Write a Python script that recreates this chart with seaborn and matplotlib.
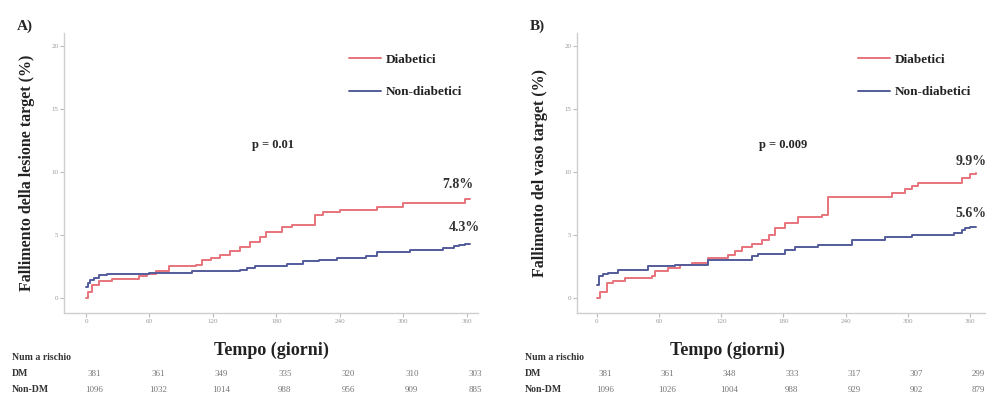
import matplotlib
matplotlib.use("Agg")
import matplotlib.pyplot as plt
import numpy as np
import pandas as pd
import seaborn as sns

# (day, cumulative %)
a_dm_days = [0, 2, 6, 12, 25, 50, 58, 66, 78, 104, 110, 118, 127, 136, 146, 155, 164, 170, 185, 195, 216, 224, 240, 275, 300, 358, 363]
a_dm_vals = [0, 0.5, 1.0, 1.3, 1.5, 1.7, 1.9, 2.1, 2.5, 2.6, 3.0, 3.2, 3.4, 3.7, 4.0, 4.4, 4.8, 5.2, 5.6, 5.8, 6.6, 6.8, 7.0, 7.2, 7.5, 7.8, 7.8]
a_ndm_days = [0, 2, 4, 8, 12, 20, 60, 100, 146, 152, 160, 190, 205, 220, 237, 265, 275, 306, 337, 348, 353, 358, 363]
a_ndm_vals = [0.9, 1.2, 1.4, 1.6, 1.8, 1.9, 2.0, 2.1, 2.2, 2.4, 2.5, 2.7, 2.9, 3.0, 3.2, 3.3, 3.6, 3.8, 3.95, 4.1, 4.2, 4.3, 4.3]

b_dm_days = [0, 3, 10, 15, 27, 53, 56, 69, 80, 92, 107, 126, 133, 140, 150, 159, 166, 172, 181, 194, 217, 223, 285, 297, 304, 310, 352, 360, 366]
b_dm_vals = [0, 0.5, 1.2, 1.3, 1.6, 1.7, 2.1, 2.4, 2.6, 2.8, 3.2, 3.4, 3.7, 4.0, 4.3, 4.6, 5.0, 5.5, 5.9, 6.4, 6.6, 8.0, 8.3, 8.6, 8.9, 9.1, 9.5, 9.8, 9.9]
b_ndm_days = [0, 2, 6, 11, 20, 49, 75, 107, 150, 155, 181, 191, 213, 246, 278, 304, 345, 352, 355, 360, 366]
b_ndm_vals = [1.0, 1.7, 1.9, 2.0, 2.2, 2.5, 2.6, 3.0, 3.3, 3.5, 3.8, 4.0, 4.2, 4.6, 4.8, 5.0, 5.15, 5.4, 5.5, 5.6, 5.6]

time_ticks = [0, 60, 120, 180, 240, 300, 360]
a_risk_dm = [381, 361, 349, 335, 320, 310, 303]
a_risk_ndm = [1096, 1032, 1014, 988, 956, 909, 885]
b_risk_dm = [381, 361, 348, 333, 317, 307, 299]
b_risk_ndm = [1096, 1026, 1004, 988, 929, 902, 879]

groups = ["Diabetici", "Non-diabetici"]
colors = {"Diabetici": "#e8737c", "Non-diabetici": "#535c9a"}

sns.set_style("white")
plt.rcParams["font.family"] = ["Liberation Serif", "DejaVu Serif"]

fig = plt.figure(figsize=(9.96, 3.96), dpi=100)


def panel(rect, xlim, dm, ndm, risk_dm, risk_ndm, letter, ylabel, xlab_x, pval, pct_dm, pct_ndm, pct_pos):
    ax = fig.add_axes(rect)
    df = pd.DataFrame({
        "day": dm[0] + ndm[0],
        "val": dm[1] + ndm[1],
        "grp": [groups[0]] * len(dm[0]) + [groups[1]] * len(ndm[0]),
    })
    sns.lineplot(data=df, x="day", y="val", hue="grp", hue_order=groups, palette=colors,
                 drawstyle="steps-post", estimator=None, linewidth=1.4, ax=ax)
    ax.set_xlim(*xlim)
    ax.set_ylim(-1.2, 21)
    ax.set_xticks(time_ticks)
    ax.set_yticks([0, 5, 10, 15, 20])
    for s in ["top", "right"]:
        ax.spines[s].set_visible(False)
    for s in ["left", "bottom"]:
        ax.spines[s].set_color("#cfcfcf")
        ax.spines[s].set_linewidth(1.0)
    ax.tick_params(axis="both", labelsize=5, labelcolor="#999999", color="#bbbbbb",
                   length=3, width=0.8, direction="out", bottom=True, left=True, pad=1)
    ax.set_xlabel("Tempo (giorni)", fontsize=13, fontweight="bold", color="#222222")
    ax.xaxis.set_label_coords(xlab_x, -0.103)
    ax.set_ylabel(ylabel, fontsize=11.5, fontweight="bold", color="#222222", labelpad=12)
    leg = ax.legend(loc="upper left", bbox_to_anchor=(0.66, 0.97), frameon=False,
                    handlelength=2.4, labelspacing=1.55, handletextpad=0.4, fontsize=9.5)
    for t in leg.get_texts():
        t.set_fontweight("bold")
        t.set_color("#222222")
    ax.text(pval[0], pval[1], pval[2], ha="center", va="center", fontsize=9, fontweight="bold")
    ax.text(pct_pos[0], pct_pos[1], pct_dm, ha="center", va="center", fontsize=10,
            fontweight="bold", color="#333333")
    ax.text(pct_pos[2], pct_pos[3], pct_ndm, ha="center", va="center", fontsize=10,
            fontweight="bold", color="#333333")
    # panel letter
    ax.text(-0.115, 1.0, letter, transform=ax.transAxes, fontsize=11, fontweight="bold", va="bottom")

    # number at risk table under the axis
    tr = matplotlib.transforms.blended_transform_factory(ax.transData, fig.transFigure)
    x0 = ax.get_position().x0 - 52 / 996
    fig.text(x0, 1 - 358 / 396, "Num a rischio", fontsize=7, color="#333333", va="center", fontweight="bold")
    fig.text(x0, 1 - 374 / 396, "DM", fontsize=7, color="#333333", va="center", fontweight="bold")
    fig.text(x0, 1 - 390 / 396, "Non-DM", fontsize=7, color="#333333", va="center", fontweight="bold")
    for d, r1, r2 in zip(time_ticks, risk_dm, risk_ndm):
        ax.text(d + 8, 1 - 374 / 396, str(r1), transform=tr, fontsize=6.5, color="#777777", ha="center", va="center")
        ax.text(d + 8, 1 - 390 / 396, str(r2), transform=tr, fontsize=6.5, color="#777777", ha="center", va="center")
    return ax


panel([64 / 996, 1 - 313 / 396, 414 / 996, 280 / 396], (-20.8, 370.5),
      (a_dm_days, a_dm_vals), (a_ndm_days, a_ndm_vals), a_risk_dm, a_risk_ndm,
      "A)", "Fallimento della lesione target (%)", 0.5, (177, 12.1, "p = 0.01"),
      "7.8%", "4.3%", (351, 9.0, 358, 5.55))
panel([577 / 996, 1 - 313 / 396, 408 / 996, 280 / 396], (-19.3, 374.5),
      (b_dm_days, b_dm_vals), (b_ndm_days, b_ndm_vals), b_risk_dm, b_risk_ndm,
      "B)", "Fallimento del vaso target (%)", 0.368, (180, 12.1, "p = 0.009"),
      "9.9%", "5.6%", (361, 10.8, 361, 6.7))

fig.savefig("out.png", dpi=100)
